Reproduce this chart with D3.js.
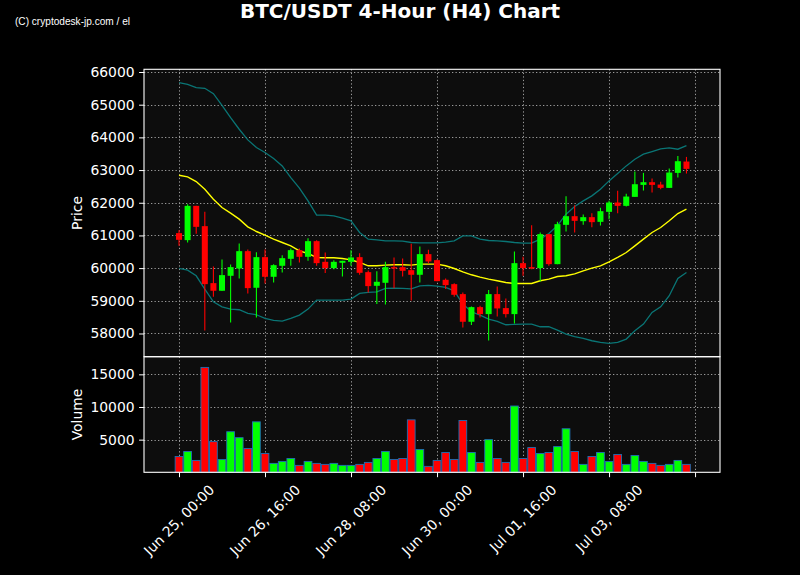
<!DOCTYPE html>
<html><head><meta charset="utf-8">
<script src="https://cdn.jsdelivr.net/npm/d3@7"></script>
<style>body{margin:0;background:#000;} svg{display:block}</style>
</head><body>
<svg id="c" width="800" height="575"></svg>
<script>
// ---- data ----
const startTime = "2024-06-25T00:00:00Z";   // first 4-hour candle
const candleHours = 4;
const openP  = [61070,60856,61905,61284,59541,59307,59765,59989,60519,59399,60336,59735,60071,60285,60550,60346,60825,60193,60000,60163,60193,60336,59877,59459,59551,60030,60030,59938,59796,60428,60244,59643,59510,59205,58359,58807,58593,59205,58777,58593,60152,60030,60000,61039,60122,61324,61589,61436,61559,61416,61722,62007,61905,62180,62547,62629,62557,62455,62914,63261];
const highP  = [61161,61956,61905,61722,60051,60265,60112,60754,60570,60489,60570,60122,60397,60601,60601,60917,60855,60478,60244,60224,60550,60458,59928,59908,60193,60326,60295,60743,60662,60560,60264,59684,59541,59256,58828,58848,59327,59439,59072,60509,60346,61314,61090,61039,61416,62201,61926,61640,61681,61844,62058,62364,62272,62955,62914,62741,62639,63046,63434,63403];
const lowP   = [60682,60784,61049,58094,59123,59307,58339,59684,59225,58491,59531,59561,59867,60071,60173,60224,60071,59847,59969,59745,60071,59796,59256,58899,58889,59388,59745,59011,59561,60152,59602,59358,59123,58186,58257,58491,57788,58522,58491,58308,59765,59969,59592,60071,60122,61120,61090,61324,61253,61304,61498,61681,61885,62180,62374,62313,62415,62455,62771,62894];
const closeP = [60866,61905,61263,59510,59307,59786,60030,60519,59388,60336,59735,60091,60305,60550,60346,60825,60152,60000,60193,60224,60326,59857,59449,59582,60030,59989,59918,59796,60428,60203,59602,59480,59184,58359,58807,58593,59205,58767,58593,60152,60000,59989,61039,60122,61345,61589,61447,61559,61406,61742,62007,61905,62190,62567,62629,62547,62455,62924,63271,63036];
const volume = [2424,3182,1818,16059,4697,1970,6212,5303,3636,7727,2879,1364,1667,2121,1061,1667,1364,1212,1364,1061,1061,1212,1515,2121,3182,1970,2121,8030,3485,909,1818,3030,1970,7929,3030,1515,5000,2121,1515,10150,2121,3788,2879,3030,3939,6667,3182,1212,2424,3030,1667,2727,1212,2576,1667,1364,1061,1212,1818,1212];
const bbMid   = [62843,62792,62649,62415,62109,61854,61681,61498,61263,61120,61008,60886,60784,60682,60529,60448,60326,60316,60316,60295,60254,60173,60071,60071,60091,60101,60101,60091,60122,60122,60122,60071,59989,59887,59796,59724,59663,59612,59561,59531,59531,59531,59612,59663,59745,59765,59826,59918,59999,60071,60193,60326,60478,60682,60886,61090,61243,61447,61671,61803];
const bbUpper = [65675,65624,65523,65502,65339,64982,64605,64249,63923,63688,63536,63352,63128,62771,62450,62058,61620,61620,61600,61528,61447,61090,60886,60866,60835,60835,60825,60784,60774,60774,60774,60794,60835,60988,60988,60886,60845,60835,60815,60784,60764,60764,60886,61059,61300,61650,61885,62058,62211,62415,62669,62894,63128,63332,63485,63566,63648,63678,63638,63750];
const bbLower = [59989,59938,59765,59357,58970,58817,58746,58726,58614,58573,58461,58400,58379,58461,58563,58746,59021,59021,59021,59021,59052,59225,59256,59276,59378,59388,59378,59368,59460,59470,59449,59408,59307,58899,58665,58563,58441,58369,58267,58277,58287,58287,58206,58206,58104,57982,57901,57850,57778,57727,57697,57727,57829,58084,58287,58644,58817,59154,59684,59867];
const priceTicks = [58000,59000,60000,61000,62000,63000,64000,65000,66000];
const volumeTicks = [5000,10000,15000];
const xTickTimes = ["2024-06-25T00:00:00Z","2024-06-26T16:00:00Z","2024-06-28T08:00:00Z","2024-06-30T00:00:00Z","2024-07-01T16:00:00Z","2024-07-03T08:00:00Z","2024-07-05T00:00:00Z"];
const xTickLabels = ["Jun 25, 00:00","Jun 26, 16:00","Jun 28, 08:00","Jun 30, 00:00","Jul 01, 16:00","Jul 03, 08:00",""];
const titleText = "BTC/USDT 4-Hour (H4) Chart";
const creditText = "(C) cryptodesk-jp.com / el";

// ---- layout ----
const H = 3600e3;
const t0 = new Date(startTime).getTime();
const times = openP.map((_, i) => new Date(t0 + i * candleHours * H));
const L = 144, R = 720, pTop = 69.3, pBot = 356.7, vBot = 472.3;
const svg = d3.select("#c");
svg.append("rect").attr("width", 800).attr("height", 575).attr("fill", "#000");

const x = d3.scaleUtc()
  .domain([new Date(t0 - 16.28 * H), new Date(t0 + 251.6 * H)])
  .range([L, R]);
const yP = d3.scaleLinear().domain([57290, 66083]).range([pBot, pTop]);
const yV = d3.scaleLinear().domain([0, 17700]).range([vBot, pBot]);
const step = x(times[1]) - x(times[0]);

// panels background
[[pTop, pBot], [pBot, vBot]].forEach(([a, b]) => {
  svg.append("rect").attr("x", L).attr("y", a).attr("width", R - L).attr("height", b - a).attr("fill", "#0d0d0d");
});

const FONT = "DejaVu Sans, sans-serif";
const gridStyle = g => g.attr("stroke", "#9a9a9a").attr("stroke-width", 1).attr("stroke-dasharray", "1.3,2.2").attr("fill", "none");

// grids
const grid = svg.append("g");
xTickTimes.forEach(t => {
  const xx = Math.round(x(new Date(t))) + 0.5;
  grid.append("line").attr("x1", xx).attr("x2", xx).attr("y1", pTop).attr("y2", pBot).call(gridStyle);
  grid.append("line").attr("x1", xx).attr("x2", xx).attr("y1", pBot).attr("y2", vBot).call(gridStyle);
});
priceTicks.forEach(v => {
  const yy = Math.round(yP(v)) + 0.5;
  grid.append("line").attr("x1", L).attr("x2", R).attr("y1", yy).attr("y2", yy).call(gridStyle);
});
volumeTicks.forEach(v => {
  const yy = Math.round(yV(v)) + 0.5;
  grid.append("line").attr("x1", L).attr("x2", R).attr("y1", yy).attr("y2", yy).call(gridStyle);
});

// bands
const line = d3.line().x((d, i) => x(times[i])).y(d => yP(d));
svg.append("path").attr("d", line(bbUpper)).attr("fill", "none").attr("stroke", "#0a7575").attr("stroke-width", 1.3);
svg.append("path").attr("d", line(bbLower)).attr("fill", "none").attr("stroke", "#0a7575").attr("stroke-width", 1.3);
svg.append("path").attr("d", line(bbMid)).attr("fill", "none").attr("stroke", "#ffff00").attr("stroke-width", 1.4);

// candles
const up = i => closeP[i] >= openP[i];
const RED = "#ff0000", GREEN = "#00ff00";
const cg = svg.append("g");
times.forEach((t, i) => {
  const col = up(i) ? GREEN : RED;
  const cx = x(t);
  cg.append("line").attr("x1", cx).attr("x2", cx).attr("y1", yP(highP[i])).attr("y2", yP(lowP[i]))
    .attr("stroke", col).attr("stroke-width", 1.1);
  const top = yP(Math.max(openP[i], closeP[i])), bot = yP(Math.min(openP[i], closeP[i]));
  const bw = step * 0.7;
  cg.append("rect").attr("x", cx - bw / 2).attr("y", top).attr("width", bw).attr("height", Math.max(1, bot - top)).attr("fill", col);
});

// volume bars
const vg = svg.append("g");
times.forEach((t, i) => {
  const col = up(i) ? GREEN : RED;
  const bw = step * 0.9;
  vg.append("rect").attr("x", x(t) - bw / 2).attr("y", yV(volume[i])).attr("width", bw)
    .attr("height", vBot - yV(volume[i])).attr("fill", col).attr("stroke", "#1f6fb4").attr("stroke-width", 0.9);
});

// frames
[[pTop, pBot], [pBot, vBot]].forEach(([a, b]) => {
  svg.append("rect").attr("x", L).attr("y", a).attr("width", R - L).attr("height", b - a)
    .attr("fill", "none").attr("stroke", "#fff").attr("stroke-width", 1.1);
});

// y axes
const axP = svg.append("g").attr("transform", `translate(${L},0)`)
  .call(d3.axisLeft(yP).tickValues(priceTicks).tickSize(4.9).tickPadding(4.5).tickFormat(d3.format("d")));
const axV = svg.append("g").attr("transform", `translate(${L},0)`)
  .call(d3.axisLeft(yV).tickValues(volumeTicks).tickSize(4.9).tickPadding(4.5).tickFormat(d3.format("d")));
[axP, axV].forEach(a => {
  a.select(".domain").remove();
  a.selectAll("line").attr("stroke", "#fff");
  a.selectAll("text").attr("fill", "#fff").attr("font-family", FONT).attr("font-size", 13.9);
});

// x axis
const axX = svg.append("g").attr("transform", `translate(0,${vBot})`)
  .call(d3.axisBottom(x).tickValues(xTickTimes.map(t => new Date(t))).tickSize(4.9).tickFormat(""));
axX.select(".domain").remove();
axX.selectAll("line").attr("stroke", "#fff");
const xl = svg.append("g");
xTickTimes.forEach((t, i) => {
  if (!xTickLabels[i]) return;
  const cx = x(new Date(t));
  const txt = xl.append("text").text(xTickLabels[i]).attr("font-family", FONT).attr("font-size", 13.9)
    .attr("fill", "#fff").attr("text-anchor", "middle").attr("dominant-baseline", "central");
  const w = txt.node().getComputedTextLength();
  const box = (w + 13.9) * Math.SQRT1_2;
  const cy = vBot + 10 + box / 2;
  txt.attr("x", cx).attr("y", cy).attr("transform", `rotate(-45,${cx},${cy})`);
});

// axis labels
svg.append("text").text("Price").attr("font-family", FONT).attr("font-size", 13.9).attr("fill", "#fff")
  .attr("text-anchor", "middle").attr("transform", `translate(82,${(pTop + pBot) / 2}) rotate(-90)`);
svg.append("text").text("Volume").attr("font-family", FONT).attr("font-size", 13.9).attr("fill", "#fff")
  .attr("text-anchor", "middle").attr("transform", `translate(82,${(pBot + vBot) / 2}) rotate(-90)`);

// title + credit
svg.append("text").text(titleText).attr("x", 400).attr("y", 17.5).attr("text-anchor", "middle")
  .attr("font-family", FONT).attr("font-weight", "bold").attr("font-size", 20).attr("fill", "#fff");
svg.append("text").text(creditText).attr("x", 15).attr("y", 24.5)
  .attr("font-family", "Liberation Sans, Arial, sans-serif").attr("font-size", 11).attr("fill", "#fff")
  .attr("textLength", 115).attr("lengthAdjust", "spacingAndGlyphs");
</script>
</body></html>
